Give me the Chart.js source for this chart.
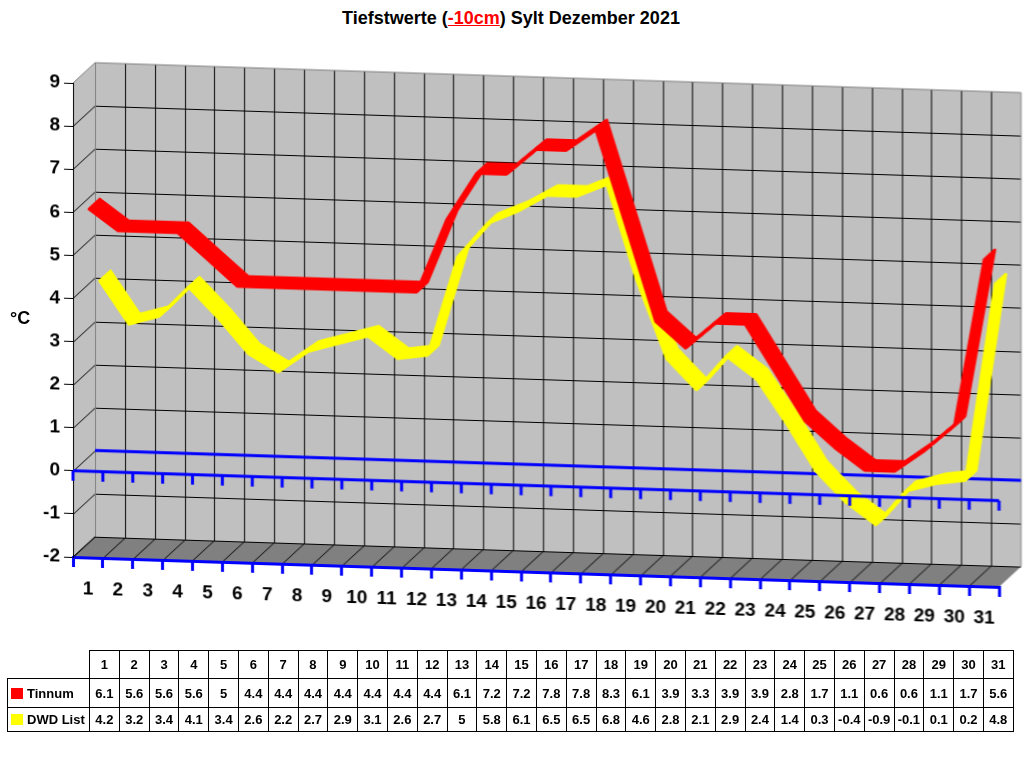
<!DOCTYPE html>
<html>
<head>
<meta charset="utf-8">
<title>Tiefstwerte Sylt Dezember 2021</title>
<script src="https://cdn.jsdelivr.net/npm/chart.js@4.4.1/dist/chart.umd.min.js"></script>
<style>
  body { margin:0; background:#fff; font-family:"Liberation Sans", Arial, sans-serif; }
  #wrap { position:relative; width:1024px; height:768px; overflow:hidden; }
  #title { position:absolute; top:8px; left:0; width:1022px; text-align:center; font-weight:bold; font-size:18px; }
  #title span { color:#ff0000; text-decoration:underline; }
  #unit { position:absolute; left:10px; top:308px; font-weight:bold; font-size:18px; }
  #cv { position:absolute; left:0; top:0; transform:skewY(1.85deg); transform-origin:73px 0; }
  #tbl { position:absolute; left:7px; top:650px; border-collapse:collapse; font-weight:bold; font-size:13px; }
  #tbl td { border:1px solid #000; text-align:center; padding:0; width:28.8px; }
  #tbl td.lab { width:78px; text-align:left; padding-left:3px; white-space:nowrap; }
  #tbl td.blank { border:none; }
  #tbl tr.h td { height:27px; }
  #tbl tr.r1 td { height:28px; }
  #tbl tr.r2 td { height:23px; }
  .sq { display:inline-block; width:12px; height:11px; margin-right:4px; vertical-align:-1px; }
</style>
</head>
<body>
<div id="wrap">
  <div id="title">Tiefstwerte (<span>-10cm</span>) Sylt Dezember 2021</div>
  <canvas id="cv" width="1024" height="640"></canvas>
  <div id="unit">°C</div>
  <table id="tbl"></table>
</div>
<script>
// ---- data ----
var days = ["1","2","3","4","5","6","7","8","9","10","11","12","13","14","15","16","17","18","19","20","21","22","23","24","25","26","27","28","29","30","31"];
var tinnum = [6.1,5.6,5.6,5.6,5,4.4,4.4,4.4,4.4,4.4,4.4,4.4,6.1,7.2,7.2,7.8,7.8,8.3,6.1,3.9,3.3,3.9,3.9,2.8,1.7,1.1,0.6,0.6,1.1,1.7,5.6];
var dwdList = [4.2,3.2,3.4,4.1,3.4,2.6,2.2,2.7,2.9,3.1,2.6,2.7,5,5.8,6.1,6.5,6.5,6.8,4.6,2.8,2.1,2.9,2.4,1.4,0.3,-0.4,-0.9,-0.1,0.1,0.2,4.8];
var seriesNames = ["Tinnum","DWD List"];
var seriesColors = ["#ff0000","#ffff00"];

// depth of the fake 3d box
var DX = 22, DY = -21;
// each ribbon sits in its own slice of the depth
var depthFrom = [0, 0.5], depthTo = [0.5, 1];

// table under the chart
var tbl = document.getElementById("tbl");
var html = '<tr class="h"><td class="blank"></td>';
days.forEach(function(d){ html += '<td>' + d + '</td>'; });
html += '</tr>';
[tinnum, dwdList].forEach(function(arr, k){
  html += '<tr class="r' + (k+1) + '"><td class="lab"><span class="sq" style="background:' + seriesColors[k] + '"></span>' + seriesNames[k] + '</td>';
  arr.forEach(function(v){ html += '<td>' + v + '</td>'; });
  html += '</tr>';
});
tbl.innerHTML = html;

function boundaries(x) {
  var w = x.getPixelForValue(1) - x.getPixelForValue(0);
  var b = [];
  for (var i = 0; i <= days.length; i++) b.push(x.getPixelForValue(i) - w/2);
  return b;
}

var walls = {
  id: 'walls',
  beforeDraw: function(chart) {
    var ctx = chart.ctx, a = chart.chartArea, x = chart.scales.x, y = chart.scales.y;
    var bx = boundaries(x);
    ctx.save();
    // back wall
    ctx.fillStyle = "#c0c0c0";
    ctx.fillRect(a.left+DX, a.top+DY, a.right-a.left, a.bottom-a.top);
    // side wall
    ctx.beginPath();
    ctx.moveTo(a.left, a.top); ctx.lineTo(a.left+DX, a.top+DY);
    ctx.lineTo(a.left+DX, a.bottom+DY); ctx.lineTo(a.left, a.bottom);
    ctx.closePath(); ctx.fill();
    // floor
    ctx.fillStyle = "#808080";
    ctx.beginPath();
    ctx.moveTo(a.left, a.bottom); ctx.lineTo(a.right, a.bottom);
    ctx.lineTo(a.right+DX, a.bottom+DY); ctx.lineTo(a.left+DX, a.bottom+DY);
    ctx.closePath(); ctx.fill();

    ctx.strokeStyle = "#000"; ctx.lineWidth = 1;
    ctx.beginPath();
    y.ticks.forEach(function(t){
      var py = Math.round(y.getPixelForValue(t.value)) + 0.5;
      if (t.value == y.max) return;
      ctx.moveTo(a.left, py); ctx.lineTo(a.left+DX, py+DY);
      ctx.lineTo(a.right+DX, py+DY);
    });
    for (var i = 1; i < bx.length - 1; i++) {
      var px = Math.round(bx[i]) + 0.5;
      ctx.moveTo(px+DX, a.top+DY); ctx.lineTo(px+DX, a.bottom+DY);
      ctx.lineTo(px, a.bottom);
    }
    ctx.moveTo(a.left+DX, a.bottom+DY); ctx.lineTo(a.left, a.bottom);
    ctx.stroke();

    // gray outer edges
    ctx.strokeStyle = "#808080";
    ctx.beginPath();
    ctx.moveTo(a.left, a.top); ctx.lineTo(a.left+DX, a.top+DY);
    ctx.lineTo(a.right+DX, a.top+DY); ctx.lineTo(a.right+DX, a.bottom+DY);
    ctx.moveTo(a.left+DX+0.5, a.top+DY); ctx.lineTo(a.left+DX+0.5, a.bottom+DY);
    ctx.stroke();

    // back zero line
    var y0 = y.getPixelForValue(0);
    ctx.strokeStyle = "#0000ff"; ctx.lineWidth = 3;
    ctx.beginPath();
    ctx.moveTo(a.left+DX, y0+DY); ctx.lineTo(a.right+DX, y0+DY);
    ctx.stroke();
    ctx.restore();
  },
  afterDatasetsDraw: function(chart) {
    var ctx = chart.ctx, a = chart.chartArea, x = chart.scales.x, y = chart.scales.y;
    var bx = boundaries(x);
    var y0 = y.getPixelForValue(0);
    ctx.save();
    ctx.strokeStyle = "#0000ff"; ctx.lineWidth = 3;
    ctx.beginPath();
    ctx.moveTo(a.left, y0); ctx.lineTo(a.right, y0);
    bx.forEach(function(p){ ctx.moveTo(p, y0); ctx.lineTo(p, y0+10); });
    ctx.stroke();
    ctx.restore();
  }
};

// sweep each line through its depth slice so it looks like a ribbon
var ribbons = {
  id: 'ribbons',
  beforeDatasetDraw: function(chart, args) {
    var ctx = chart.ctx, meta = args.meta;
    var f = depthFrom[args.index], t = depthTo[args.index];
    var steps = 14;
    for (var s = 0; s <= steps; s++) {
      var k = f + (t - f) * s / steps;
      ctx.save();
      ctx.translate(DX*k, DY*k);
      meta.dataset.draw(ctx, chart.chartArea);
      ctx.restore();
    }
    return false;
  }
};

var font = "'Liberation Sans', Arial, sans-serif";

new Chart(document.getElementById("cv").getContext("2d"), {
  type: 'line',
  data: {
    labels: days,
    datasets: [
      { label: seriesNames[0], data: tinnum, borderColor: seriesColors[0], borderWidth: 2.5, pointRadius: 0, tension: 0, borderJoinStyle: 'round' },
      { label: seriesNames[1], data: dwdList, borderColor: seriesColors[1], borderWidth: 2.5, pointRadius: 0, tension: 0, borderJoinStyle: 'round' }
    ]
  },
  options: {
    responsive: false,
    animation: false,
    devicePixelRatio: 1,
    layout: { padding: { top: 83, right: 25, left: 0, bottom: 0 } },
    plugins: { legend: { display: false }, tooltip: { enabled: false }, title: { display: false } },
    scales: {
      x: {
        offset: true,
        afterFit: function(s){ s.height = 83; },
        grid: { offset: true, drawOnChartArea: false, tickLength: 10, color: "#0000ff", lineWidth: 3 },
        border: { color: "#0000ff", width: 3 },
        ticks: { color: "#000", font: { family: font, size: 19, weight: 'bold' }, padding: 10, maxRotation: 0, autoSkip: false }
      },
      y: {
        min: -2, max: 9,
        afterFit: function(s){ s.width = 73; },
        grid: { drawOnChartArea: false, tickLength: 9, color: "#000", lineWidth: 1 },
        border: { color: "#000", width: 1 },
        ticks: { stepSize: 1, color: "#000", font: { family: font, size: 19, weight: 'bold' }, padding: 4 }
      }
    }
  },
  plugins: [walls, ribbons]
});
</script>
</body>
</html>
